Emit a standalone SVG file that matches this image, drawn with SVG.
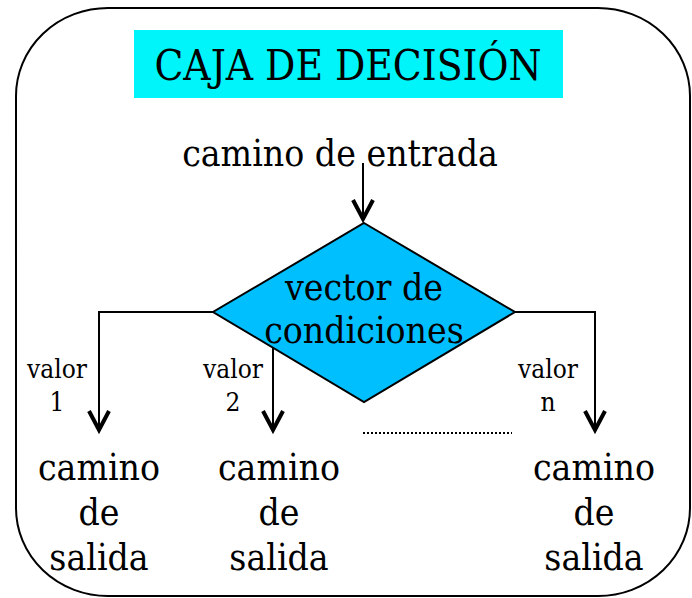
<svg xmlns="http://www.w3.org/2000/svg" width="692" height="598" viewBox="0 0 692 598">
<style>
text{font-family:"DejaVu Serif Condensed","DejaVu Serif",serif;font-stretch:condensed;fill:#000;text-anchor:middle}
.big{font-size:37px}
.lab{font-size:26px}
.ln{fill:none;stroke:#000;stroke-width:2}
.ah{fill:none;stroke:#000;stroke-width:4}
</style>
<rect x="16" y="8" width="674" height="588" rx="92" ry="88" fill="#fff" stroke="#000" stroke-width="2"/>
<g id="title">
<rect x="134" y="30" width="429" height="68" fill="#00f5fa"/>
<text x="348" y="80" style="font-size:42px">CAJA DE DECISIÓN</text>
</g>
<g id="entrada"><text class="big" x="340" y="166">camino de entrada</text></g>
<g id="decision">
<polygon points="364,223 515,312 364,402 213,312" fill="#00bfff" stroke="#000" stroke-width="2"/>
<text class="big" x="364" y="300">vector de</text>
<text class="big" x="364" y="343">condiciones</text>
</g>
<g id="connectors">
<path class="ln" d="M363,163 V219"/>
<path class="ah" d="M353,200 L363,219 L373,200"/>
<path class="ln" d="M213,312 H99 V430"/>
<path class="ah" d="M89,411 L99,430 L109,411"/>
<path class="ln" d="M273,348 V430"/>
<path class="ah" d="M263,411 L273,430 L283,411"/>
<path class="ln" d="M515,312 H595 V430"/>
<path class="ah" d="M585,411 L595,430 L605,411"/>
<path d="M363,433 H512" fill="none" stroke="#000" stroke-width="2" stroke-dasharray="2,2"/>
</g>
<g id="labels">
<text class="lab" x="57" y="378">valor</text><text class="lab" x="57" y="411">1</text>
<text class="lab" x="233" y="378">valor</text><text class="lab" x="233" y="411">2</text>
<text class="lab" x="548" y="378">valor</text><text class="lab" x="548" y="411">n</text>
</g>
<g id="salida1">
<text class="big" x="99" y="480">camino</text><text class="big" x="99" y="525">de</text><text class="big" x="99" y="570">salida</text>
</g>
<g id="salida2">
<text class="big" x="279" y="480">camino</text><text class="big" x="279" y="525">de</text><text class="big" x="279" y="570">salida</text>
</g>
<g id="salidan">
<text class="big" x="594" y="480">camino</text><text class="big" x="594" y="525">de</text><text class="big" x="594" y="570">salida</text>
</g>
</svg>
